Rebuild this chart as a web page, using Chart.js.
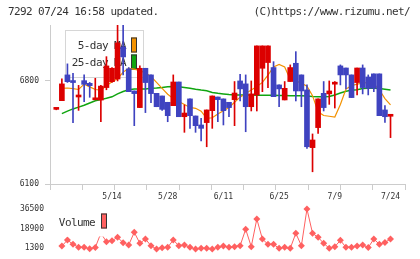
<!DOCTYPE html>
<html>
<head>
<meta charset="utf-8">
<title>7292</title>
<script src="https://cdn.jsdelivr.net/npm/chart.js"></script>
<style>
  body { margin: 0; background: #fff; }
  #wrap { position: relative; width: 420px; height: 259px; overflow: hidden; font-family: "DejaVu Sans Mono", monospace; color: #333; }
  .hd { position: absolute; top: 6px; font-size: 11px; letter-spacing: -0.6px; line-height: 12px; white-space: pre; }
  #left { left: 8px; }
  #right { right: 10px; }
  #price { position: absolute; left: 0; top: 0; }
  #vol { position: absolute; left: 0; top: 200px; }
</style>
</head>
<body>
<div id="wrap">
  <canvas id="price" width="420" height="205"></canvas>
  <canvas id="vol" width="420" height="59"></canvas>
  <div class="hd" id="left">7292 07/24 16:58 updated.</div>
  <div class="hd" id="right">(C)https://www.rizumu.net/</div>
</div>

<script>
var dates = ['4/25','4/26','4/27','5/1','5/2','5/7','5/8','5/9','5/10','5/11',
  '5/14','5/15','5/16','5/17','5/18','5/21','5/22','5/23','5/24','5/25',
  '5/28','5/29','5/30','5/31','6/1','6/4','6/5','6/6','6/7','6/8',
  '6/11','6/12','6/13','6/14','6/15','6/18','6/19','6/20','6/21','6/22',
  '6/25','6/26','6/27','6/28','6/29','7/2','7/3','7/4','7/5','7/6',
  '7/9','7/10','7/11','7/12','7/13','7/17','7/18','7/19','7/20','7/23',
  '7/24'];
var shownDates = ['5/14','5/28','6/11','6/25','7/9','7/24'];

var opens = [6607,6666,6841,6802,6691,6802,6784,6672,6670,6755,
  6795,6813,7031,6882,6732,6619,6886,6841,6716,6698,
  6655,6632,6793,6557,6678,6562,6501,6517,6598,6691,
  6678,6655,6673,6800,6780,6625,6705,6886,6925,6891,
  6773,6671,6796,6920,6841,6739,6347,6483,6716,6712,
  6778,6902,6888,6841,6789,6888,6827,6848,6848,6603,
  6560];
var highs = [6612,6815,6916,6852,6770,6841,6790,6818,6770,6965,
  6890,7190,7190,6891,6732,6902,6886,6841,6716,6698,
  6655,6841,6793,6637,6678,6562,6546,6603,6698,6691,
  6678,6655,6796,6845,6841,6800,7038,7038,7038,6931,
  6773,6796,6909,6999,6841,6773,6440,6678,6796,6800,
  6796,6909,6888,6841,6888,6909,6841,6848,6848,6632,
  6566];
var lows = [6604,6666,6790,6517,6600,6660,6689,6672,6523,6740,
  6790,6800,6841,6727,6496,6619,6585,6653,6625,6600,
  6523,6632,6557,6451,6478,6451,6392,6353,6478,6523,
  6501,6557,6496,6664,6455,6596,6596,6727,6755,6693,
  6625,6671,6796,6664,6625,6342,6183,6444,6596,6641,
  6616,6773,6746,6687,6705,6712,6705,6727,6564,6519,
  6415];
var closes = [6610,6780,6795,6789,6700,6777,6768,6680,6765,6902,
  6886,7058,6963,6727,6714,6886,6789,6714,6625,6607,
  6564,6793,6557,6582,6564,6496,6478,6603,6698,6673,
  6598,6619,6718,6746,6625,6712,7038,7038,7038,6693,
  6746,6750,6891,6732,6732,6353,6399,6678,6619,6732,
  6782,6841,6841,6687,6888,6755,6750,6750,6564,6557,
  6565];
var ma5 = [null,6750,6752,6748,6742,6778,6760,6742,6738,6768,
  6795,6815,6860,6885,6880,6870,6855,6830,6790,6750,
  6710,6680,6660,6640,6620,6614,6595,6546,6550,6575,
  6598,6620,6655,6690,6715,6738,6762,6790,6840,6895,
  6912,6895,6810,6800,6785,6765,6700,6590,6565,6560,
  6555,6640,6745,6768,6778,6785,6790,6780,6740,6680,
  6637];
var ma25 = [null,6578,6595,6610,6622,6635,6650,6665,6673,6682,
  6692,6712,6728,6740,6745,6745,6746,6750,6752,6755,
  6760,6762,6760,6756,6750,6743,6738,6734,6722,6716,
  6712,6708,6705,6705,6704,6704,6703,6703,6702,6702,
  6701,6701,6700,6700,6700,6698,6694,6692,6692,6694,
  6705,6718,6730,6737,6740,6748,6750,6750,6748,6744,
  6738];
var volumes = [null,3300,8700,4900,2200,2200,800,2000,14800,7200,
  8100,11100,6300,4300,15600,5800,9600,3600,600,1800,
  2200,8700,3600,4300,2200,600,1300,1300,600,2200,
  3300,2200,2800,3600,18300,2800,27500,9600,4900,4900,
  1300,2200,1300,14700,3600,36400,14700,11100,5800,1300,
  2800,8400,2200,2200,3300,4300,2000,9600,4900,6600,
  9600];
var priceTicks = [6100, 6800];
var volumeTicks = [1300, 18900, 36500];

var RED = '#dc0000', BLUE = '#3f43c0', ORANGE = '#f39200', GREEN = '#10a510', PINK = '#ff6060';
var FONT = '"DejaVu Sans Mono", monospace';
var XMIN = -1.13, XMAX = 62.6;

var idx = dates.map(function (d, i) { return i; });
var labelIdx = idx.filter(function (i) { return shownDates.indexOf(dates[i]) >= 0; });
var markTicks = [];
for (var k = 0; k < 12; k++) markTicks.push(XMIN + k * (XMAX - XMIN) / 11);
var candleColors = idx.map(function (i) { return closes[i] >= opens[i] ? RED : BLUE; });

function plain(v) { return String(v); }

// legend box drawn under the candles, like the original
var priceLegend = {
  id: 'priceLegend',
  beforeDatasetsDraw: function (chart) {
    var c = chart.ctx, a = chart.chartArea;
    var items = [chart.data.datasets[2], chart.data.datasets[3]];
    c.save();
    c.strokeStyle = '#d6d6d6';
    c.lineWidth = 1;
    c.strokeRect(a.left + 15.5, a.top + 5.5, 78, 47);
    c.font = '11px ' + FONT;
    c.letterSpacing = '-0.6px';
    c.textAlign = 'right';
    c.textBaseline = 'middle';
    items.forEach(function (ds, n) {
      var y = a.top + 20 + n * 17;
      c.fillStyle = '#333';
      c.fillText(ds.label, a.left + 76, y + 1);
      c.fillStyle = ds.borderColor;
      c.fillRect(a.left + 81, y - 7.5, 6, 15);
      c.strokeStyle = '#333';
      c.strokeRect(a.left + 81.5, y - 7, 5, 14);
    });
    c.restore();
  }
};

// candles sit on a hidden twin of the x axis, so the tick marks don't squeeze the bar width
new Chart(document.getElementById('price'), {
  type: 'bar',
  data: {
    datasets: [{
      label: 'body',
      xAxisID: 'xb',
      data: idx.map(function (i) { return { x: i, y: [opens[i], closes[i]] }; }),
      backgroundColor: candleColors,
      barThickness: 5,
      maxBarThickness: 5,
      minBarLength: 2,
      grouped: false,
      order: 1
    }, {
      label: 'wick',
      xAxisID: 'xb',
      data: idx.map(function (i) { return { x: i, y: [lows[i], highs[i]] }; }),
      backgroundColor: candleColors,
      barThickness: 1,
      maxBarThickness: 1,
      grouped: false,
      order: 2
    }, {
      type: 'line',
      label: '5-day MA',
      xAxisID: 'xb',
      data: idx.map(function (i) { return { x: i, y: ma5[i] }; }),
      borderColor: ORANGE,
      borderWidth: 1.2,
      pointRadius: 0,
      order: 3
    }, {
      type: 'line',
      label: '25-day MA',
      xAxisID: 'xb',
      data: idx.map(function (i) { return { x: i, y: ma25[i] }; }),
      borderColor: GREEN,
      borderWidth: 1.5,
      pointRadius: 0,
      order: 4
    }]
  },
  options: {
    responsive: false,
    animation: false,
    devicePixelRatio: 1,
    layout: { padding: { top: 25, right: 15, left: 0, bottom: 0 } },
    plugins: { legend: { display: false }, tooltip: { enabled: false } },
    scales: {
      xb: { type: 'linear', min: XMIN, max: XMAX, offset: false, display: false },
      x: {
        type: 'linear',
        min: XMIN,
        max: XMAX,
        offset: false,
        afterBuildTicks: function (s) {
          s.ticks = markTicks.concat(labelIdx).sort(function (a, b) { return a - b; })
            .map(function (v) { return { value: v }; });
        },
        afterFit: function (s) { s.height = 21; },
        grid: {
          offset: false,
          drawOnChartArea: false,
          tickLength: 6,
          color: '#cccccc',
          tickColor: function (ctx) {
            return ctx.tick && labelIdx.indexOf(ctx.tick.value) >= 0 ? 'rgba(0,0,0,0)' : '#cccccc';
          }
        },
        border: { color: '#cccccc' },
        ticks: {
          autoSkip: false,
          maxRotation: 0,
          padding: 2,
          color: '#333',
          font: { family: FONT, size: 8 },
          callback: function (v) { return labelIdx.indexOf(v) >= 0 ? dates[v] : ''; }
        }
      },
      y: {
        min: 6100,
        max: 7180,
        afterBuildTicks: function (s) { s.ticks = priceTicks.map(function (v) { return { value: v }; }); },
        afterFit: function (s) { s.width = 50; },
        grid: { drawOnChartArea: false, tickLength: 5, color: '#cccccc' },
        border: { color: '#cccccc' },
        ticks: { padding: 6, color: '#333', font: { family: FONT, size: 8 }, callback: plain }
      }
    }
  },
  plugins: [priceLegend]
});

// volume legend sits on a white patch over the line
var volLegend = {
  id: 'volLegend',
  afterDatasetsDraw: function (chart) {
    var c = chart.ctx, a = chart.chartArea;
    var ds = chart.data.datasets[0];
    c.save();
    c.fillStyle = '#fff';
    c.fillRect(a.left + 5, a.top + 3, 55, 28.5);
    c.font = '11px ' + FONT;
    c.letterSpacing = '-0.6px';
    c.textAlign = 'right';
    c.textBaseline = 'middle';
    c.fillStyle = '#333';
    c.fillText(ds.label, a.left + 45, a.top + 18);
    c.fillStyle = ds.borderColor;
    c.fillRect(a.left + 51, a.top + 8.5, 6, 15);
    c.strokeStyle = '#333';
    c.lineWidth = 1;
    c.strokeRect(a.left + 51.5, a.top + 9, 5, 14);
    c.restore();
  }
};

new Chart(document.getElementById('vol'), {
  type: 'line',
  data: {
    datasets: [{
      label: 'Volume',
      data: idx.map(function (i) { return { x: i, y: volumes[i] }; }),
      borderColor: PINK,
      backgroundColor: PINK,
      borderWidth: 1,
      pointStyle: 'rectRot',
      pointRadius: 3.5,
      pointBorderWidth: 0,
      clip: false
    }]
  },
  options: {
    responsive: false,
    animation: false,
    devicePixelRatio: 1,
    layout: { padding: { top: 5, right: 15, left: 0, bottom: 7 } },
    plugins: { legend: { display: false }, tooltip: { enabled: false } },
    scales: {
      x: { type: 'linear', min: XMIN, max: XMAX, display: false },
      y: {
        min: -2000,
        max: 40000,
        afterBuildTicks: function (s) { s.ticks = volumeTicks.map(function (v) { return { value: v }; }); },
        afterFit: function (s) { s.width = 50; s.paddingTop = 0; s.paddingBottom = 0; },
        grid: { display: false, drawTicks: false },
        border: { display: false },
        ticks: { padding: 6, color: '#333', font: { family: FONT, size: 8 }, callback: plain }
      }
    }
  },
  plugins: [volLegend]
});
</script>
</body>
</html>
